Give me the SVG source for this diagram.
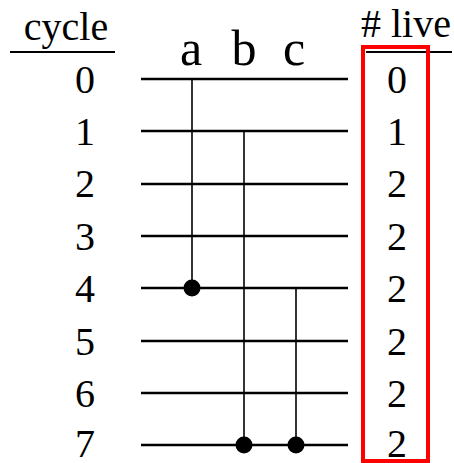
<svg xmlns="http://www.w3.org/2000/svg" width="454" height="463" viewBox="0 0 454 463">
<style>
text{font-family:"Liberation Serif","Times New Roman",serif;font-size:40px;fill:#000;text-anchor:middle}
.big{font-size:50px}
.h{stroke:#000;stroke-width:2.6}
.v{stroke:#000;stroke-width:1.6}
.u{stroke:#000;stroke-width:2}
</style>
<rect width="454" height="463" fill="#fff"/>
<g id="headers">
<text x="66" y="40">cycle</text>
<line class="u" x1="10" y1="52" x2="115" y2="52"/>
<text class="big" x="191" y="65">a</text>
<text class="big" x="244" y="65">b</text>
<text class="big" x="294" y="65">c</text>
<text x="406" y="37">#&#160;live</text>
<line class="u" x1="366" y1="52" x2="452" y2="52"/>
</g>
<g id="cycles">
<text x="85" y="93">0</text>
<text x="85" y="145">1</text>
<text x="85" y="197">2</text>
<text x="85" y="250">3</text>
<text x="85" y="302">4</text>
<text x="85" y="355">5</text>
<text x="85" y="407">6</text>
<text x="85" y="457">7</text>
</g>
<g id="rows">
<line class="h" x1="141" y1="79" x2="348" y2="79"/>
<line class="h" x1="141" y1="131" x2="348" y2="131"/>
<line class="h" x1="141" y1="184" x2="348" y2="184"/>
<line class="h" x1="141" y1="236" x2="348" y2="236"/>
<line class="h" x1="141" y1="288" x2="348" y2="288"/>
<line class="h" x1="141" y1="341" x2="348" y2="341"/>
<line class="h" x1="141" y1="393" x2="348" y2="393"/>
<line class="h" x1="141" y1="445" x2="348" y2="445"/>
</g>
<g id="connectors">
<line class="v" x1="192" y1="79" x2="192" y2="288"/>
<line class="v" x1="244" y1="131" x2="244" y2="445"/>
<line class="v" x1="296" y1="288" x2="296" y2="445"/>
<circle cx="192" cy="288" r="8.5"/>
<circle cx="244" cy="445" r="8.5"/>
<circle cx="296" cy="445" r="8.5"/>
</g>
<g id="live">
<rect x="363" y="47" width="65" height="414" fill="none" stroke="#f00" stroke-width="4"/>
<text x="397" y="93">0</text>
<text x="397" y="145">1</text>
<text x="397" y="197">2</text>
<text x="397" y="250">2</text>
<text x="397" y="302">2</text>
<text x="397" y="355">2</text>
<text x="397" y="407">2</text>
<text x="397" y="457">2</text>
</g>
</svg>
